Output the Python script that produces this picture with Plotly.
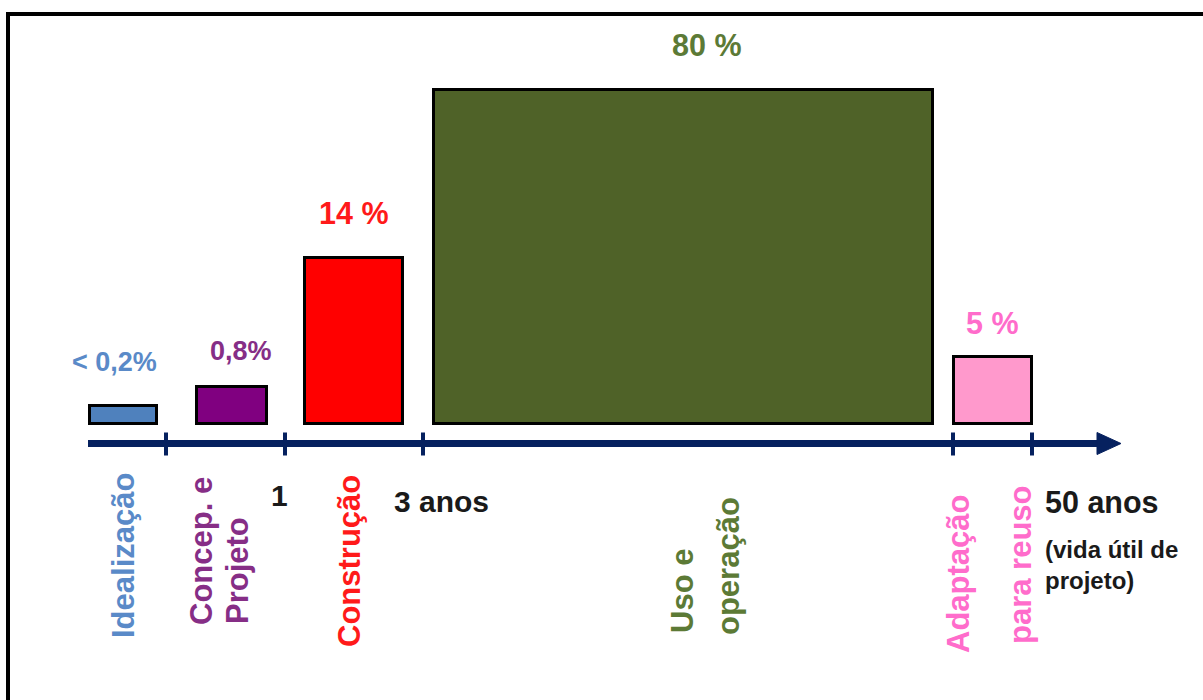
import plotly.graph_objects as go

# ---------------- data ----------------
phases = ["Idealização", "Concep. e Projeto", "Construção", "Uso e operação", "Adaptação para reuso"]
share_labels = ["< 0,2%", "0,8%", "14 %", "80 %", "5 %"]
# schematic bar heights as drawn (not to scale with the shares)
bar_heights = [18, 37, 166, 334, 67]
# schematic timeline extents of each phase (axis units)
phase_start = [89.5, 196.5, 304.5, 433.5, 953.5]
phase_end = [156.5, 266.5, 402.5, 932.5, 1031.5]
# timeline ticks and their texts
tick_pos = [166, 285, 423, 953, 1032]
time_labels = ["1", "3 anos", "50 anos"]
time_note = "(vida útil de<br>projeto)"

# ---------------- style ----------------
bar_colors = ["#4F81BD", "#800080", "#FF0000", "#4F6228", "#FF99CC"]
text_colors = ["#5A8AC8", "#862E86", "#FF1A1A", "#5C7A36", "#FF6CCB"]
FONT = "Liberation Sans, Arial, sans-serif"
NAVY = "#06215F"

centers = [(s + e) / 2 for s, e in zip(phase_start, phase_end)]
widths = [e - s for s, e in zip(phase_start, phase_end)]

fig = go.Figure()
fig.add_trace(go.Bar(
    x=centers, y=bar_heights, width=widths, base=0,
    marker=dict(color=bar_colors, line=dict(color="black", width=3)),
    hoverinfo="skip", showlegend=False,
))

ann = []
# percentage labels above bars
pct_xshift = [-9, 9.5, 0, 24, 0]
pct_yshift = [44, 36, 44.5, 44.5, 33.5]
pct_size = [27, 27, 30.5, 30.5, 30.5]
for i in range(len(phases)):
    ann.append(dict(x=centers[i], y=bar_heights[i], text=share_labels[i], showarrow=False,
                    xanchor="center", yanchor="middle", xshift=pct_xshift[i], yshift=pct_yshift[i],
                    font=dict(family=FONT, size=pct_size[i], color=text_colors[i], weight="bold")))

# rotated phase names (one annotation per line)
rot_lines = [
    ("Idealização", 0, 123, -132.5),
    ("Concep. e", 1, 201, -127.5),
    ("Projeto", 1, 237, -147.5),
    ("Construção", 2, 349, -137.5),
    ("Uso e", 3, 682, -167.5),
    ("operação", 3, 728, -142.5),
    ("Adaptação", 4, 958, -150.5),
    ("para reuso", 4, 1020, -141.5),
]
for txt, ci, xx, yy in rot_lines:
    ann.append(dict(x=xx, y=yy, text=txt, showarrow=False, textangle=-90,
                    xanchor="center", yanchor="middle",
                    font=dict(family=FONT, size=31, color=text_colors[ci], weight="bold")))

# time labels
ann.append(dict(x=279, y=-71.5, text=time_labels[0], showarrow=False, xanchor="center", yanchor="middle",
                font=dict(family=FONT, size=30, color="#1a1a1a", weight="bold")))
ann.append(dict(x=392, y=-77.5, text=time_labels[1], showarrow=False, xanchor="left", yanchor="middle",
                font=dict(family=FONT, size=30, color="#1a1a1a", weight="bold")))
ann.append(dict(x=1043, y=-78.5, text=time_labels[2], showarrow=False, xanchor="left", yanchor="middle",
                font=dict(family=FONT, size=30.5, color="#1a1a1a", weight="bold")))
ann.append(dict(x=1043, y=-141.5, text=time_note, showarrow=False, xanchor="left", yanchor="middle",
                align="left",
                font=dict(family=FONT, size=24, color="#1a1a1a", weight="bold")))

shapes = []
AX_Y = -20
# timeline axis
shapes.append(dict(type="line", xref="x", yref="y", x0=88, x1=1102, y0=AX_Y, y1=AX_Y,
                   line=dict(color=NAVY, width=7)))
shapes.append(dict(type="path", xref="x", yref="y",
                   path=f"M 1097 {AX_Y + 11} L 1121 {AX_Y} L 1097 {AX_Y - 11} Z",
                   fillcolor=NAVY, line=dict(color=NAVY, width=1)))
for t in tick_pos:
    shapes.append(dict(type="line", xref="x", yref="y", x0=t, x1=t, y0=AX_Y + 11, y1=AX_Y - 12,
                       line=dict(color=NAVY, width=4)))
# frame
shapes.append(dict(type="line", xref="paper", yref="paper", x0=6 / 1203, x1=1.01,
                   y0=1 - 14 / 700, y1=1 - 14 / 700, line=dict(color="black", width=4)))
shapes.append(dict(type="line", xref="paper", yref="paper", x0=8 / 1203, x1=8 / 1203,
                   y0=1 - 12 / 700, y1=-0.01, line=dict(color="black", width=4)))

fig.update_layout(
    width=1203, height=700,
    margin=dict(l=0, r=0, t=0, b=0),
    paper_bgcolor="white", plot_bgcolor="white",
    xaxis=dict(range=[0, 1203], visible=False, fixedrange=True),
    yaxis=dict(range=[423.5 - 700, 423.5], visible=False, fixedrange=True),
    annotations=ann, shapes=shapes,
    bargap=0,
)
fig.write_html("out.html", config={"displayModeBar": False})
